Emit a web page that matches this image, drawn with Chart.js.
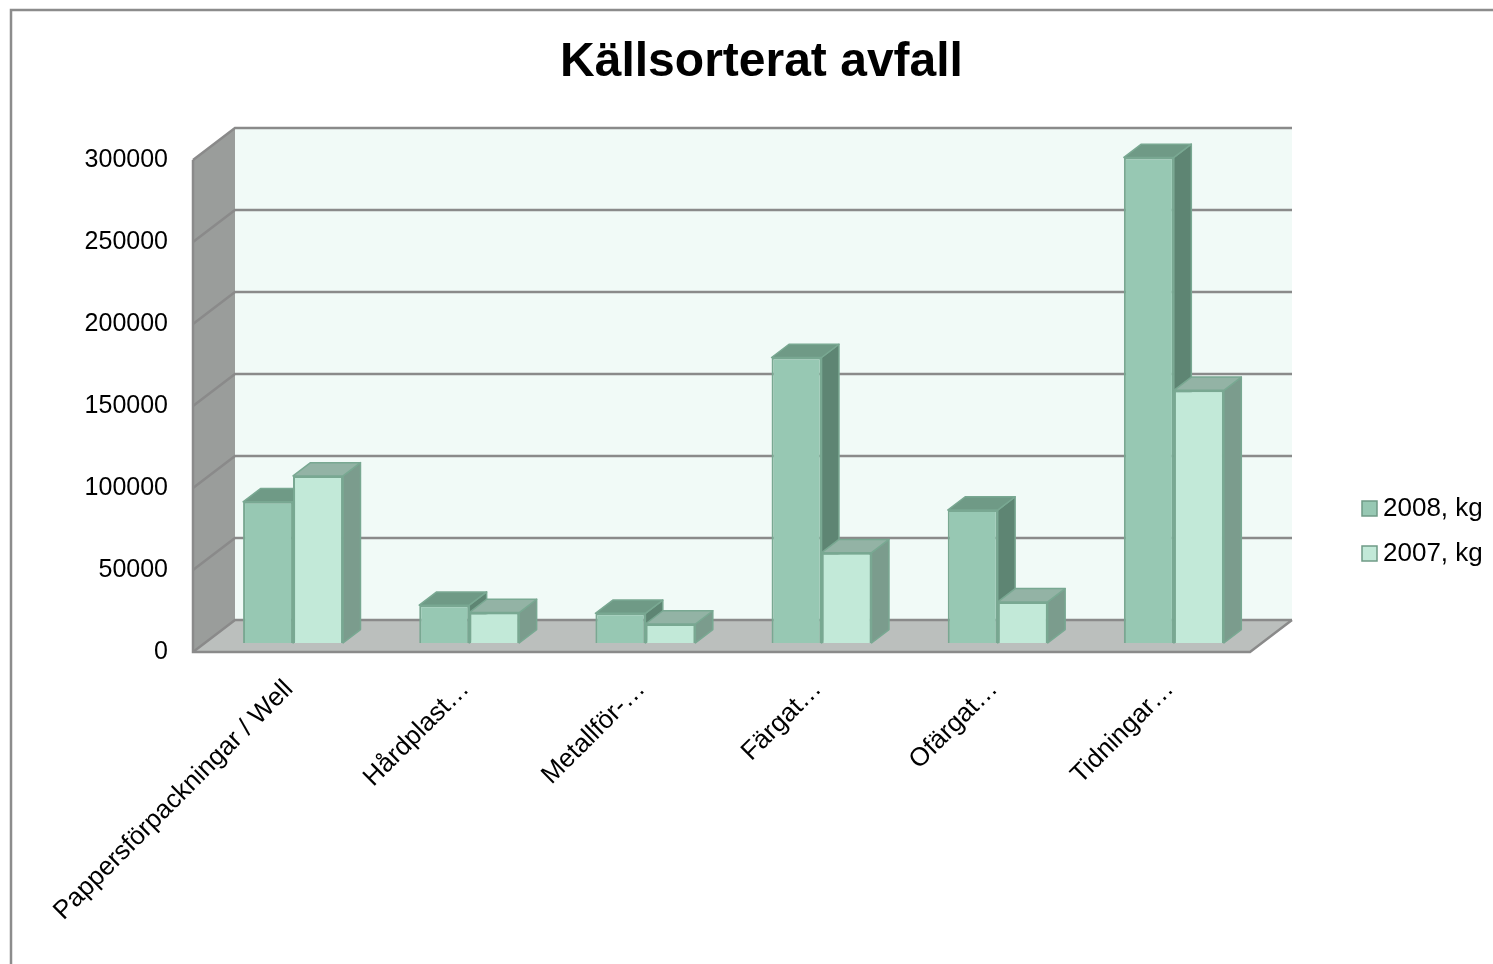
<!DOCTYPE html>
<html>
<head>
<meta charset="utf-8">
<script src="https://cdn.jsdelivr.net/npm/chart.js@4.4.0/dist/chart.umd.min.js"></script>
<style>
  body { margin: 0; background: #fff; }
  canvas { display: block; }
</style>
</head>
<body>
<canvas id="avfall" width="1493" height="964"></canvas>
<script>
// data
var categories = ['Pappersförpackningar / Well', 'Hårdplast…', 'Metallför-…', 'Färgat…', 'Ofärgat…', 'Tidningar…'];
var seriesNames = ['2008, kg', '2007, kg'];
var values2008 = [86000, 23000, 18000, 174000, 81000, 296000];
var values2007 = [101800, 18500, 11500, 55000, 25000, 154000];
var yTicks = [0, 50000, 100000, 150000, 200000, 250000, 300000];

// colours
var frontColors = ['#97c8b3', '#c2e9d8'];
var topColors = ['#6f9a86', '#93b3a5'];
var sideColors = ['#5e8573', '#7b9c8d'];
var edgeColor = '#79a892';

// 3d depth of the box (back wall offset) and where the bars sit in it
var depthX = 42, depthY = -32;
var barFront = 0.285, barBack = 0.70;

function poly(ctx, pts, fill, stroke, lw) {
    ctx.beginPath();
    ctx.moveTo(pts[0][0], pts[0][1]);
    for (var i = 1; i < pts.length; i++) ctx.lineTo(pts[i][0], pts[i][1]);
    ctx.closePath();
    if (fill) { ctx.fillStyle = fill; ctx.fill(); }
    if (stroke) { ctx.strokeStyle = stroke; ctx.lineWidth = lw || 1; ctx.stroke(); }
}

function barFaces(ctx, el, di) {
    var p = el.getProps(['x', 'y', 'base', 'width'], true);
    var l = p.x - p.width / 2, r = p.x + p.width / 2;
    var t = Math.min(p.y, p.base), b = Math.max(p.y, p.base);
    var ox = (barBack - barFront) * depthX, oy = (barBack - barFront) * depthY;
    ctx.lineJoin = 'round';
    // side
    poly(ctx, [[r, t], [r + ox, t + oy], [r + ox, b + oy], [r, b]], sideColors[di], edgeColor, 1.5);
    // top
    poly(ctx, [[l, t], [l + ox, t + oy], [r + ox, t + oy], [r, t]], topColors[di], edgeColor, 1.5);
}

var box3d = {
    id: 'box3d',
    beforeDatasetsDraw: function(chart) {
        var ctx = chart.ctx, a = chart.chartArea, y = chart.scales.y;
        var L = a.left, R = a.right, T = a.top, B = a.bottom;
        ctx.save();
        // back wall
        poly(ctx, [[L + depthX, T + depthY], [R + depthX, T + depthY], [R + depthX, B + depthY], [L + depthX, B + depthY]], '#f1faf7');
        // side wall
        poly(ctx, [[L, T], [L + depthX, T + depthY], [L + depthX, B + depthY], [L, B]], '#9a9d9b');
        // floor
        poly(ctx, [[L, B], [L + depthX, B + depthY], [R + depthX, B + depthY], [R, B]], '#bbbfbd');
        // grid lines on back wall and side wall
        ctx.strokeStyle = '#8a8a8a';
        ctx.lineWidth = 2.5;
        yTicks.forEach(function(v) {
            var py = y.getPixelForValue(v);
            ctx.beginPath();
            ctx.moveTo(L, py);
            ctx.lineTo(L + depthX, py + depthY);
            ctx.lineTo(R + depthX, py + depthY);
            ctx.stroke();
        });
        // box edges
        ctx.beginPath();
        ctx.moveTo(L, T); ctx.lineTo(L, B); ctx.lineTo(R, B); ctx.lineTo(R + depthX, B + depthY);
        ctx.stroke();
        ctx.restore();

        // move bars into the box
        ctx.save();
        ctx.translate(barFront * depthX, barFront * depthY);
    },
    afterDatasetsDraw: function(chart) {
        var ctx = chart.ctx;
        var m0 = chart.getDatasetMeta(0), m1 = chart.getDatasetMeta(1);
        for (var i = 0; i < categories.length; i++) {
            barFaces(ctx, m0.data[i], 0);
            m1.data[i].draw(ctx);
            barFaces(ctx, m1.data[i], 1);
        }
        ctx.restore();
    },
    afterDraw: function(chart) {
        var ctx = chart.ctx;
        ctx.save();
        // legend
        ctx.font = '26px "Liberation Sans", Arial, sans-serif';
        ctx.textBaseline = 'middle';
        ctx.textAlign = 'left';
        chart.data.datasets.forEach(function(ds, k) {
            var cy = 508 + k * 45;
            ctx.fillStyle = ds.backgroundColor;
            ctx.fillRect(1362, cy - 7, 15, 15);
            ctx.strokeStyle = '#6f9a86';
            ctx.lineWidth = 1.5;
            ctx.strokeRect(1362, cy - 7, 15, 15);
            ctx.fillStyle = '#000';
            ctx.fillText(ds.label, 1383, cy + 1);
        });
        // outer frame
        ctx.strokeStyle = '#8c8c8c';
        ctx.lineWidth = 2.5;
        ctx.strokeRect(11, 10, 2000, 2000);
        ctx.restore();
    }
};

var ctx = document.getElementById('avfall').getContext('2d');
var chart = new Chart(ctx, {
    type: 'bar',
    data: {
        labels: categories,
        datasets: [{
            label: seriesNames[0],
            data: values2008,
            backgroundColor: frontColors[0],
            borderColor: edgeColor,
            borderWidth: 2
        }, {
            label: seriesNames[1],
            data: values2007,
            backgroundColor: frontColors[1],
            borderColor: edgeColor,
            borderWidth: 2
        }]
    },
    options: {
        responsive: false,
        animation: false,
        devicePixelRatio: 1,
        layout: { padding: { left: 30, right: 0, top: 0, bottom: 0 } },
        datasets: {
            bar: { categoryPercentage: 0.5676, barPercentage: 1 }
        },
        plugins: {
            legend: { display: false },
            tooltip: { enabled: false },
            title: {
                display: true,
                text: 'Källsorterat avfall',
                color: '#000',
                font: { family: '"Liberation Sans", Arial, sans-serif', size: 48, weight: 'bold' },
                padding: { top: 34, bottom: 68.4 }
            }
        },
        scales: {
            x: {
                grid: { display: false, drawTicks: false },
                border: { display: false },
                ticks: {
                    color: '#000',
                    font: { family: '"Liberation Sans", Arial, sans-serif', size: 26 },
                    minRotation: 45,
                    maxRotation: 45,
                    autoSkip: false,
                    padding: 22,
                    labelOffset: 8
                },
                afterFit: function(s) { s.height = 312; }
            },
            y: {
                min: 0,
                max: 300000,
                grid: { display: false, drawTicks: false },
                border: { display: false },
                afterBuildTicks: function(s) { s.ticks = yTicks.map(function(v) { return { value: v }; }); },
                ticks: {
                    color: '#000',
                    font: { family: '"Liberation Sans", Arial, sans-serif', size: 25 },
                    padding: 25,
                    callback: function(v) { return String(v); }
                },
                afterFit: function(s) { s.width = 163; }
            },
            y2: {
                position: 'right',
                grid: { display: false, drawTicks: false },
                border: { display: false },
                ticks: { display: false },
                afterFit: function(s) { s.width = 243; }
            }
        }
    },
    plugins: [box3d]
});
</script>
</body>
</html>
